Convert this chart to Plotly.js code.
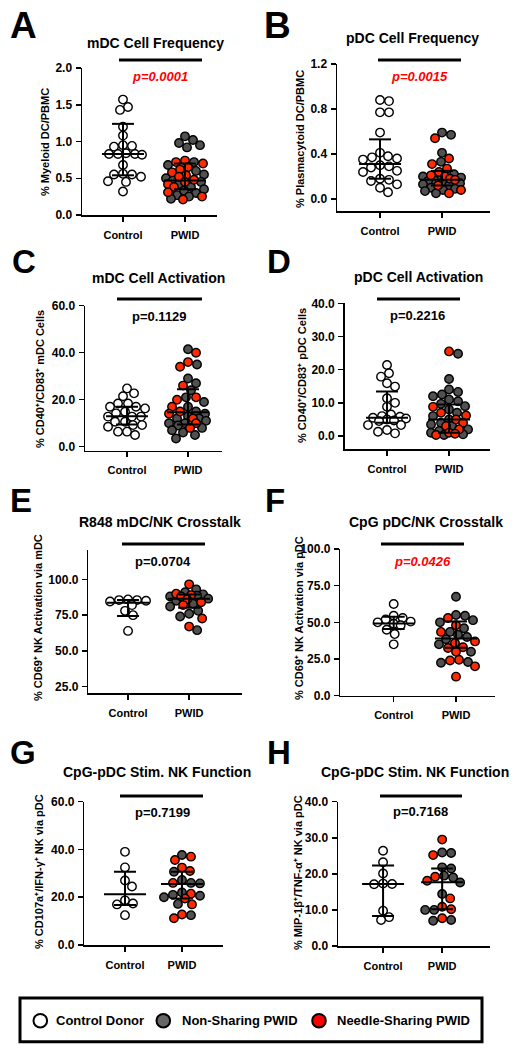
<!DOCTYPE html>
<html><head><meta charset="utf-8">
<script src="https://cdn.plot.ly/plotly-3.0.1.min.js"></script>
<style>html,body{margin:0;padding:0;background:#fff}#chart{width:514px;height:1050px}</style>
</head><body><div id="chart"></div>
<script>
// ---------- DATA ----------
const categories = ['Control', 'PWID'];
const panelLetters = ['A','B','C','D','E','F','G','H'];
const panelTitles = ['mDC Cell Frequency','pDC Cell Frequency','mDC Cell Activation','pDC Cell Activation',
  'R848 mDC/NK Crosstalk','CpG pDC/NK Crosstalk','CpG-pDC Stim. NK Function','CpG-pDC Stim. NK Function'];
const yTitles = ['% Myeloid DC/PBMC','% Plasmacytoid DC/PBMC',
  '% CD40⁺/CD83⁺ mDC Cells','% CD40⁺/CD83⁺ pDC Cells',
  '% CD69⁺ NK Activation via mDC','% CD69⁺ NK Activation via pDC',
  '% CD107a⁺/IFN-γ⁺ NK via pDC','% MIP-1β⁺/TNF-α⁺ NK via pDC'];
const pValues = ['p=0.0001','p=0.0015','p=0.1129','p=0.2216','p=0.0704','p=0.0426','p=0.7199','p=0.7168'];
const significant = [true,true,false,false,false,true,false,false];
const legendLabels = ['Control Donor','Non-Sharing PWID','Needle-Sharing PWID'];

const aTicks = [0,0.5,1.0,1.5,2.0];
const bTicks = [0,0.4,0.8,1.2];
const cTicks = [0,20,40,60];
const dTicks = [0,10,20,30,40];
const eTicks = [25,50,75,100];
const fTicks = [0,25,50,75,100];
const gTicks = [0,20,40,60];
const hTicks = [0,10,20,30,40];

const aCtrl = [1.57,1.47,1.43,1.20,1.08,0.95,0.94,0.93,0.84,0.83,0.83,0.83,0.82,0.68,0.56,0.55,0.55,0.52,0.46,0.45,0.32];
const aNon = [1.07,1.02,0.98,0.95,0.92,0.72,0.68,0.60,0.55,0.50,0.47,0.45,0.42,0.38,0.35,0.33,0.30,0.27,0.25,0.22];
const aNeedle = [0.74,0.72,0.70,0.65,0.62,0.58,0.54,0.52,0.48,0.45,0.42,0.38,0.31,0.25,0.21];
const aMed = [0.83,0.47], aQ1 = [0.54,0.35], aQ3 = [1.24,0.70];

const bCtrl = [0.88,0.87,0.77,0.77,0.59,0.41,0.38,0.37,0.36,0.35,0.30,0.29,0.28,0.25,0.24,0.18,0.17,0.16,0.13,0.10,0.06];
const bNon = [0.59,0.57,0.41,0.33,0.22,0.20,0.19,0.18,0.17,0.16,0.15,0.14,0.13,0.12,0.10,0.09,0.08,0.07,0.05];
const bNeedle = [0.54,0.36,0.31,0.27,0.24,0.21,0.20,0.18,0.17,0.12,0.08,0.05];
const bMed = [0.31,0.17], bQ1 = [0.18,0.12], bQ3 = [0.53,0.25];

const cCtrl = [24.8,22.7,21.5,18.4,18.4,17,17,16.3,14.9,14.2,12.8,12.8,12.8,10.6,10.6,9.2,9.2,8.5,6.4,6.4,5.0];
const cNon = [41.5,35,29,27,24,21,19,17,15,14,13,12,12,11,10,10,9,8,7,6,5,3.5];
const cNeedle = [40,36,34,26,21,20,17,15,14,12,10,8];
const cMed = [13,14.7], cQ1 = [9.5,9.5], cQ3 = [17,24.4];

const dCtrl = [21.4,18.9,17.9,15.9,14.9,11.4,10.0,8.8,6.5,6.0,5.8,5.5,5.3,5.0,4.7,4.5,3.3,3.3,1.8,1.3,0.8];
const dNon = [24.8,17.2,14,13.3,12.5,12,11,10.5,9.7,9,8,7,6,5,4,3.5,3,2,1.5,1,0.5,0.3];
const dNeedle = [25.5,8.8,7,6.2,5,4,3,2,1,0.7,0.3];
const dMed = [5.5,5.0], dQ1 = [4.0,1.0], dQ3 = [13.4,9.5];

const eCtrl = [86,85.5,85.5,85,84.5,82,78,75,64];
const eNon = [93,91,89.5,88.5,88,86.5,85,83,81,78,76,74,64.5];
const eNeedle = [96.5,90,89,88,86,84,82,72.7,67];
const eMed = [83.7,86.5], eQ1 = [74.4,80.2], eQ3 = [85.6,89.5];

const fCtrl = [62.5,54.5,53,52,50.5,50,49,48,45,42,35];
const fNon = [67.5,55,54.5,51.5,50,46,43.5,41.5,40,38.5,35,30,23,22.5];
const fNeedle = [53,48,43.5,37,36,33,32.5,30,24.5,24,20,13];
const fMed = [49.3,39], fQ1 = [45.5,32.7], fQ3 = [53.9,50.5];

const gCtrl = [39,32.5,27,24.5,18.7,17.4,17,12.5];
const gNon = [37.7,30.7,27.2,26,25.8,22,21,20.6,20,17.2,12.5];
const gNeedle = [37,35.6,32.4,31,26,21.5,19.5,17,12.8,11.2];
const gMed = [21.3,25.5], gQ1 = [16.7,19.5], gQ3 = [30.7,30.7];

const hCtrl = [26.4,23.2,20.1,17.3,17.2,17.1,9.8,8.0,7.2];
const hNon = [25.9,25.8,21.8,21.5,19.5,19,17.6,14.4,10,10,7.2,7];
const hNeedle = [29.5,25.2,19.2,18.1,13.2,10.9,10.2,7.7];
const hMed = [17.2,17.7], hQ1 = [8.3,10.2], hQ3 = [22.3,21.5];

// ---------- LAYOUT GEOMETRY (pixels) ----------
const W = 514, H = 1050;
const geo = [
 {xl:82, xr:217, yt:68, yb:215, x0:0.339, x1:2.516, y0:0, y1:2, tx:155, ty:43, bx0:119, bx1:202, by:60, px:160, py:76, ax:45, ay:142, lx:10, ly:25, ls:37},
 {xl:337, xr:490, yt:64, yb:211, x0:0.306, x1:2.774, y0:-0.107, y1:1.2, tx:412, ty:38, bx0:378, bx1:461, by:60, px:419, py:76, ax:300, ay:139, lx:264, ly:25, ls:37},
 {xl:85, xr:222, yt:305.7, yb:450.7, x0:0.311, x1:2.557, y0:-1.7, y1:60, tx:158, ty:278, bx0:117, bx1:202, by:299, px:159, py:316, ax:40, ay:379, lx:12, ly:262, ls:33},
 {xl:344.7, xr:490, yt:303.3, yb:449.3, x0:0.318, x1:2.66, y0:-4, y1:40, tx:418, ty:277, bx0:377, bx1:460, by:299, px:417, py:315, ax:302, ay:376, lx:267, ly:262, ls:33},
 {xl:88.3, xr:241.7, yt:550, yb:693.3, x0:0.35, x1:2.86, y0:20.4, y1:120.5, tx:160, ty:522, bx0:122, bx1:205, by:544, px:163, py:561, ax:38, ay:618, lx:10, ly:501, ls:33},
 {xl:340.3, xr:495, yt:549, yb:695.7, x0:0.143, x1:2.626, y0:0, y1:100, tx:426, ty:522, bx0:381, bx1:464, by:544, px:422, py:561, ax:299, ay:618, lx:265, ly:501, ls:33},
 {xl:84.3, xr:223, yt:801.7, yb:945, x0:0.286, x1:2.72, y0:0, y1:60, tx:157, ty:772, bx0:120, bx1:203, by:796, px:162, py:812, ax:39, ay:872, lx:10, ly:752, ls:33},
 {xl:338, xr:490, yt:801.7, yb:946, x0:0.237, x1:2.81, y0:0, y1:40, tx:415, ty:772, bx0:380, bx1:462, by:796, px:420, py:811, ax:298, ay:873, lx:267, ly:752, ls:33}
];

const panels = [
 {ctrl:aCtrl, non:aNon, needle:aNeedle, med:aMed, q1:aQ1, q3:aQ3, ticks:aTicks},
 {ctrl:bCtrl, non:bNon, needle:bNeedle, med:bMed, q1:bQ1, q3:bQ3, ticks:bTicks},
 {ctrl:cCtrl, non:cNon, needle:cNeedle, med:cMed, q1:cQ1, q3:cQ3, ticks:cTicks},
 {ctrl:dCtrl, non:dNon, needle:dNeedle, med:dMed, q1:dQ1, q3:dQ3, ticks:dTicks},
 {ctrl:eCtrl, non:eNon, needle:eNeedle, med:eMed, q1:eQ1, q3:eQ3, ticks:eTicks},
 {ctrl:fCtrl, non:fNon, needle:fNeedle, med:fMed, q1:fQ1, q3:fQ3, ticks:fTicks},
 {ctrl:gCtrl, non:gNon, needle:gNeedle, med:gMed, q1:gQ1, q3:gQ3, ticks:gTicks},
 {ctrl:hCtrl, non:hNon, needle:hNeedle, med:hMed, q1:hQ1, q3:hQ3, ticks:hTicks}
];

const FONT = 'Arial, "Liberation Sans", Helvetica, sans-serif';
const WHITE = '#ffffff', GREY = '#505050', RED = '#ff2a00';
const MS = 8.5, MLW = 1.4, MIN_D = 8.5, MAX_OFF = 19;

// compact beeswarm: spread points horizontally (pixels) within +/-MAX_OFF, overlapping when crowded
function swarm(values, center, g) {
  const pxX = (g.xr - g.xl) / (g.x1 - g.x0);
  const pxY = (g.yb - g.yt) / (g.y1 - g.y0);
  const order = values.map((v, i) => i).sort((a, b) => values[b] - values[a]);
  const placed = [];
  const out = new Array(values.length);
  for (const i of order) {
    const py = values[i] * pxY;
    let chosen = 0, bestScore = -1;
    for (let k = 0; k <= 2 * MAX_OFF; k++) {
      const off = (k % 2 === 1 ? 1 : -1) * Math.ceil(k / 2);
      let md = Infinity;
      for (const p of placed) {
        const dx = p.x - off, dy = p.y - py;
        md = Math.min(md, Math.sqrt(dx * dx + dy * dy));
      }
      if (md >= MIN_D) { chosen = off; bestScore = Infinity; break; }
      if (md > bestScore + 0.5) { bestScore = md; chosen = off; }
    }
    placed.push({x: chosen, y: py});
    out[i] = center + chosen / pxX;
  }
  return out;
}

const traces = [];
const layout = {
  width: W, height: H, margin: {l:0, r:0, t:0, b:0},
  paper_bgcolor: '#ffffff', plot_bgcolor: 'rgba(0,0,0,0)',
  showlegend: false, font: {family: FONT, color: '#000', size: 12},
  shapes: [], annotations: []
};

panels.forEach((p, i) => {
  const g = geo[i];
  const n = i === 0 ? '' : String(i + 1);
  const xa = 'x' + n, ya = 'y' + n;
  const pxX = (g.xr - g.xl) / (g.x1 - g.x0);

  layout['xaxis' + n] = {
    domain: [g.xl / W, g.xr / W], range: [g.x0, g.x1], anchor: ya,
    showline: true, linecolor: '#000', linewidth: 1.5, mirror: false,
    ticks: 'outside', ticklen: 5, tickwidth: 1.5, tickcolor: '#000',
    tickvals: [1, 2], ticktext: categories, ticklabelstandoff: 4,
    tickfont: {family: FONT, size: 11, color: '#000', weight: 'bold'},
    showgrid: false, zeroline: false, fixedrange: true
  };
  layout['yaxis' + n] = {
    domain: [1 - g.yb / H, 1 - g.yt / H], range: [g.y0, g.y1], anchor: xa,
    showline: true, linecolor: '#000', linewidth: 1.5, mirror: false,
    ticks: 'outside', ticklen: 5, tickwidth: 1.5, tickcolor: '#000',
    tickvals: p.ticks, tickformat: '.1f', ticklabelstandoff: 1,
    tickfont: {family: FONT, size: 12, color: '#000', weight: 'bold'},
    showgrid: false, zeroline: false, fixedrange: true
  };

  // points
  const pwidAll = p.non.concat(p.needle);
  const xCtrl = swarm(p.ctrl, 1, g);
  const xPwid = swarm(pwidAll, 2, g);
  const mk = (c) => ({size: MS, color: c, line: {color: '#000', width: MLW}});
  traces.push({type:'scatter', mode:'markers', xaxis:xa, yaxis:ya, x:xCtrl, y:p.ctrl, marker:mk(WHITE), cliponaxis:false, name:legendLabels[0], hoverinfo:'y'});
  traces.push({type:'scatter', mode:'markers', xaxis:xa, yaxis:ya, x:xPwid.slice(0, p.non.length), y:p.non, marker:mk(GREY), cliponaxis:false, name:legendLabels[1], hoverinfo:'y'});
  traces.push({type:'scatter', mode:'markers', xaxis:xa, yaxis:ya, x:xPwid.slice(p.non.length), y:p.needle, marker:mk(RED), cliponaxis:false, name:legendLabels[2], hoverinfo:'y'});

  // median + IQR
  const hm = 21 / pxX, hc = 11 / pxX;
  const lx = [], ly = [];
  [0, 1].forEach(j => {
    const c = j + 1;
    lx.push(c - hm, c + hm, null, c - hc, c + hc, null, c - hc, c + hc, null, c, c, null);
    ly.push(p.med[j], p.med[j], null, p.q3[j], p.q3[j], null, p.q1[j], p.q1[j], null, p.q1[j], p.q3[j], null);
  });
  traces.push({type:'scatter', mode:'lines', xaxis:xa, yaxis:ya, x:lx, y:ly, line:{color:'#000', width:2}, cliponaxis:false, hoverinfo:'skip'});

  // significance bar
  layout.shapes.push({type:'line', xref:'paper', yref:'paper', x0:g.bx0 / W, x1:g.bx1 / W, y0:1 - g.by / H, y1:1 - g.by / H, line:{color:'#000', width:3}});

  // title
  layout.annotations.push({xref:'paper', yref:'paper', x:g.tx / W, y:1 - g.ty / H, xanchor:'center', yanchor:'middle', showarrow:false,
    text:panelTitles[i], font:{family:FONT, size:14, color:'#000', weight:'bold'}});
  // p value
  layout.annotations.push({xref:'paper', yref:'paper', x:g.px / W, y:1 - g.py / H, xanchor:'center', yanchor:'middle', showarrow:false,
    text: pValues[i],
    font:{family:FONT, size:13, color: significant[i] ? '#ff0000' : '#000', weight:'bold', style: significant[i] ? 'italic' : 'normal'}});
  // y title
  layout.annotations.push({xref:'paper', yref:'paper', x:g.ax / W, y:1 - g.ay / H, xanchor:'center', yanchor:'middle', showarrow:false, textangle:-90,
    text:yTitles[i], font:{family:FONT, size:11, color:'#000', weight:'bold'}});
  // panel letter
  layout.annotations.push({xref:'paper', yref:'paper', x:(g.lx - 2) / W, y:1 - g.ly / H, xanchor:'left', yanchor:'middle', showarrow:false,
    text:panelLetters[i], font:{family:FONT, size:g.ls, color:'#000', weight:'bold'}});
});

// legend box
const LB = {x0:20, x1:482, y0:998, y1:1041.7, cy:1020.7};
layout.shapes.push({type:'rect', xref:'paper', yref:'paper', x0:LB.x0 / W, x1:LB.x1 / W, y0:1 - LB.y1 / H, y1:1 - LB.y0 / H, line:{color:'#000', width:3}, fillcolor:'rgba(0,0,0,0)'});
const legItems = [{cx:40.3, tx:56, c:'#ffffff'}, {cx:163.3, tx:181.7, c:'#666666'}, {cx:319, tx:336.7, c:'#ff0000'}];
legItems.forEach((it, k) => {
  const r = 6.8;
  layout.shapes.push({type:'circle', xref:'paper', yref:'paper', x0:(it.cx - r) / W, x1:(it.cx + r) / W, y0:1 - (LB.cy + r) / H, y1:1 - (LB.cy - r) / H,
    fillcolor:it.c, line:{color:'#000', width:2}});
  layout.annotations.push({xref:'paper', yref:'paper', x:(it.tx - 2) / W, y:1 - LB.cy / H, xanchor:'left', yanchor:'middle', showarrow:false,
    text:legendLabels[k], font:{family:FONT, size:13, color:'#000', weight:'bold'}});
});

Plotly.newPlot('chart', traces, layout, {displayModeBar:false, staticPlot:true});
</script>
</body></html>
